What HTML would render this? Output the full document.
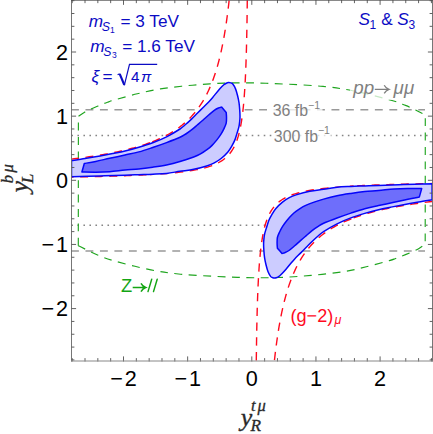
<!DOCTYPE html>
<html><head><meta charset="utf-8"><style>
html,body{margin:0;padding:0;background:#fff;}
svg{display:block;font-family:"Liberation Sans",sans-serif;}
.ser{font-family:"Liberation Serif",serif;font-style:italic;fill:#2a2a2a;stroke:#2a2a2a;stroke-width:0.3px}
.tl{font-size:21.6px;fill:#000;letter-spacing:1.8px}
.bl{fill:#0b0bc4;font-size:17.2px}
</style></head><body>
<svg width="433" height="434" viewBox="0 0 433 434">
<rect width="433" height="434" fill="#fff"/>
<defs><clipPath id="cp"><rect x="71.5" y="0" width="361.0" height="361.0"/></clipPath>
<g id="lobe">
<path d="M71.50,160.80 C73.75,160.43 80.25,159.42 85.00,158.60 C89.75,157.78 95.33,156.77 100.00,155.90 C104.67,155.03 108.83,154.23 113.00,153.40 C117.17,152.57 120.69,151.93 125.00,150.90 C129.31,149.87 134.23,148.57 138.85,147.20 C143.47,145.83 148.08,144.43 152.70,142.70 C157.32,140.97 162.00,139.08 166.55,136.80 C171.10,134.52 176.79,131.08 180.00,129.00 C183.21,126.92 183.88,125.95 185.80,124.30 C187.72,122.65 189.58,120.93 191.50,119.10 C193.42,117.27 195.37,115.23 197.30,113.30 C199.23,111.37 201.17,109.43 203.10,107.50 C205.03,105.57 207.30,103.38 208.90,101.70 C210.50,100.02 210.92,99.52 212.70,97.40 C214.48,95.28 217.75,91.10 219.60,89.00 C221.45,86.90 222.68,85.77 223.80,84.80 C224.92,83.83 225.50,83.57 226.30,83.20 C227.10,82.83 227.85,82.65 228.60,82.60 C229.35,82.55 230.10,82.67 230.80,82.90 C231.50,83.13 232.01,83.01 232.80,84.00 C233.59,84.99 234.75,86.88 235.55,88.85 C236.35,90.82 237.03,93.49 237.60,95.80 C238.17,98.11 238.65,100.40 239.00,102.70 C239.35,105.00 239.53,107.29 239.70,109.60 C239.87,111.91 240.00,114.57 240.00,116.55 C240.00,118.53 239.88,119.78 239.70,121.50 C239.52,123.22 239.37,124.88 238.90,126.90 C238.43,128.92 237.60,131.35 236.90,133.60 C236.20,135.85 235.53,138.37 234.70,140.40 C233.87,142.43 233.03,143.88 231.90,145.80 C230.77,147.72 229.70,149.78 227.90,151.90 C226.10,154.02 223.37,156.67 221.10,158.50 C218.83,160.33 216.57,161.70 214.30,162.90 C212.03,164.10 210.92,164.63 207.50,165.70 C204.08,166.77 198.38,168.37 193.80,169.30 C189.22,170.23 184.54,170.62 180.00,171.30 C175.46,171.98 171.10,172.92 166.55,173.40 C162.00,173.88 157.32,173.98 152.70,174.20 C148.08,174.42 143.47,174.53 138.85,174.70 C134.23,174.87 131.47,174.98 125.00,175.20 C118.53,175.42 108.92,175.73 100.00,176.00 C91.08,176.27 76.25,176.67 71.50,176.80Z" fill="#ccccff" stroke="#0505fa" stroke-width="1.5" stroke-linejoin="round"/>
<path d="M84.30,163.50 C86.20,163.15 91.48,162.27 95.70,161.40 C99.92,160.53 104.72,159.37 109.60,158.30 C114.48,157.23 120.12,156.07 125.00,155.00 C129.88,153.93 134.23,153.15 138.85,151.90 C143.47,150.65 148.08,149.05 152.70,147.50 C157.32,145.95 162.00,144.30 166.55,142.60 C171.10,140.90 176.79,138.73 180.00,137.30 C183.21,135.87 183.88,135.23 185.80,134.00 C187.72,132.77 189.58,131.40 191.50,129.90 C193.42,128.40 195.37,126.65 197.30,125.00 C199.23,123.35 201.17,121.70 203.10,120.00 C205.03,118.30 206.98,116.45 208.90,114.80 C210.82,113.15 213.00,111.23 214.60,110.10 C216.20,108.97 217.33,108.50 218.50,108.00 C219.67,107.50 221.08,107.25 221.60,107.10 C222.37,107.98 225.43,111.52 226.20,112.40 C226.25,113.22 226.50,115.52 226.50,117.30 C226.50,119.08 226.62,121.22 226.20,123.10 C225.78,124.98 224.87,126.75 224.00,128.60 C223.13,130.45 222.18,132.32 221.00,134.20 C219.82,136.08 218.43,138.00 216.90,139.90 C215.37,141.80 213.40,144.02 211.80,145.60 C210.20,147.18 209.18,148.02 207.30,149.40 C205.42,150.78 202.77,152.63 200.50,153.90 C198.23,155.17 197.12,155.73 193.70,157.00 C190.28,158.27 184.53,160.18 180.00,161.50 C175.47,162.82 171.10,163.95 166.55,164.90 C162.00,165.85 157.32,166.52 152.70,167.20 C148.08,167.88 143.47,168.52 138.85,169.00 C134.23,169.48 129.88,169.65 125.00,170.10 C120.12,170.55 114.48,171.35 109.60,171.70 C104.72,172.05 100.32,172.15 95.70,172.20 C91.08,172.25 84.20,172.03 81.90,172.00Z" fill="#6e6efb" stroke="#0505fa" stroke-width="1.5" stroke-linejoin="round"/>
</g></defs>
<g clip-path="url(#cp)">
<g stroke="#999" stroke-width="1.6" fill="none">
<path d="M71,109.7H425" stroke-dasharray="7.9 6.57"/>
<path d="M71,251.0H425" stroke-dasharray="7.9 6.57"/>
<path d="M71.4,135.5H428" stroke-dasharray="1.6 4.41" stroke-width="1.6" stroke="#858585"/>
<path d="M71.4,225.3H428" stroke-dasharray="1.6 4.41" stroke-width="1.6" stroke="#858585"/>
</g>
<path id="green" d="M78.30,245.70 L78.40,116.30 C79.43,115.62 82.63,113.37 84.60,112.20 C86.57,111.03 88.05,110.30 90.20,109.30 C92.35,108.30 95.28,107.13 97.50,106.20 C99.72,105.27 101.67,104.42 103.50,103.70 C105.33,102.98 106.72,102.52 108.50,101.90 C110.28,101.28 109.40,101.35 114.20,100.00 C119.00,98.65 129.60,95.65 137.30,93.80 C145.00,91.95 151.22,90.33 160.40,88.90 C169.58,87.47 181.68,86.17 192.40,85.20 C203.12,84.23 213.93,83.47 224.70,83.10 C235.47,82.73 246.22,82.80 257.00,83.00 C267.78,83.20 278.40,83.73 289.40,84.30 C300.40,84.87 312.45,85.33 323.00,86.40 C333.55,87.47 341.70,88.50 352.70,90.70 C363.70,92.90 380.20,97.15 389.00,99.60 C397.80,102.05 401.07,103.65 405.50,105.40 C409.93,107.15 412.77,108.75 415.60,110.10 C418.43,111.45 420.88,112.70 422.50,113.50 C424.12,114.30 424.83,114.67 425.30,114.90 L425.20,244.30 C424.17,244.98 420.97,247.23 419.00,248.40 C417.03,249.57 415.55,250.30 413.40,251.30 C411.25,252.30 408.32,253.47 406.10,254.40 C403.88,255.33 401.93,256.18 400.10,256.90 C398.27,257.62 396.88,258.08 395.10,258.70 C393.32,259.32 394.20,259.25 389.40,260.60 C384.60,261.95 374.00,264.95 366.30,266.80 C358.60,268.65 352.38,270.27 343.20,271.70 C334.02,273.13 321.92,274.43 311.20,275.40 C300.48,276.37 289.67,277.13 278.90,277.50 C268.13,277.87 257.38,277.80 246.60,277.60 C235.82,277.40 225.20,276.87 214.20,276.30 C203.20,275.73 191.15,275.27 180.60,274.20 C170.05,273.13 161.90,272.10 150.90,269.90 C139.90,267.70 123.40,263.45 114.60,261.00 C105.80,258.55 102.53,256.95 98.10,255.20 C93.67,253.45 90.83,251.85 88.00,250.50 C85.17,249.15 82.72,247.90 81.10,247.10 C79.48,246.30 78.77,245.93 78.30,245.70" fill="none" stroke="#1fa51f" stroke-width="1.15" stroke-dasharray="7.9 6.5"/>
<g fill="none" stroke="#ff0a1e" stroke-width="1.4" stroke-dasharray="8.3 6.5">
<path d="M71.54,159.09 L74.16,158.78 L76.75,158.46 L79.30,158.14 L81.81,157.81 L84.29,157.48 L86.73,157.14 L89.13,156.80 L91.50,156.45 L93.83,156.09 L96.13,155.74 L98.40,155.37 L100.63,155.00 L102.83,154.63 L105.00,154.25 L107.14,153.86 L109.24,153.47 L111.32,153.07 L113.36,152.67 L115.37,152.26 L117.36,151.85 L119.31,151.42 L121.24,151.00 L123.14,150.56 L125.01,150.12 L126.85,149.68 L128.67,149.22 L130.46,148.76 L132.22,148.29 L133.96,147.82 L135.67,147.34 L137.36,146.85 L139.02,146.36 L140.66,145.85 L142.27,145.34 L143.86,144.83 L145.43,144.30 L146.97,143.77 L148.50,143.23 L149.99,142.68" stroke-dashoffset="0.60" stroke-dasharray="8.0 6.6"/><path d="M149.99,142.68 L152.02,141.91 L154.01,141.12 L155.95,140.32 L157.86,139.51 L159.73,138.67 L161.56,137.82 L163.35,136.95 L165.11,136.07 L166.83,135.16 L168.52,134.24 L170.17,133.30 L171.79,132.34 L173.38,131.36 L174.93,130.36 L176.46,129.34 L177.95,128.30 L179.41,127.23 L180.84,126.15 L182.25,125.04 L183.62,123.91 L184.97,122.76 L186.29,121.58 L187.58,120.38 L188.85,119.16 L190.09,117.91 L191.31,116.63 L192.50,115.33 L193.66,114.01 L194.81,112.65 L195.93,111.27 L197.02,109.86 L198.10,108.42 L199.15,106.95 L200.18,105.45 L201.19,103.92 L202.18,102.36 L203.15,100.77 L204.10,99.14 L205.03,97.48 L205.94,95.79 L206.83,94.06 L207.70,92.30 L208.55,90.50 L209.39,88.66 L210.21,86.79 L211.01,84.88 L211.80,82.93 L212.57,80.94 L213.32,78.91 L214.06,76.84 L214.78,74.72 L215.49,72.57 L216.18,70.36 L216.86,68.12 L217.52,65.82 L218.17,63.48 L218.81,61.10 L219.43,58.66 L220.04,56.17 L220.64,53.64 L221.22,51.05 L221.79,48.41 L222.35,45.71 L222.89,42.96 L223.43,40.15 L223.95,37.29 L224.46,34.37 L224.96,31.38 L225.45,28.34 L225.93,25.23 L226.40,22.07 L226.86,18.83 L227.30,15.53 L227.74,12.16 L228.17,8.73 L228.59,5.22 L229.00,1.64 L229.39,-2.01 L229.78,-5.73" stroke-dashoffset="12.37" stroke-dasharray="8.3 6.5"/><path d="M432.06,201.51 L429.44,201.82 L426.85,202.14 L424.30,202.46 L421.79,202.79 L419.31,203.12 L416.87,203.46 L414.47,203.80 L412.10,204.15 L409.77,204.51 L407.47,204.86 L405.20,205.23 L402.97,205.60 L400.77,205.97 L398.60,206.35 L396.46,206.74 L394.36,207.13 L392.28,207.53 L390.24,207.93 L388.23,208.34 L386.24,208.75 L384.29,209.18 L382.36,209.60 L380.46,210.04 L378.59,210.48 L376.75,210.92 L374.93,211.38 L373.14,211.84 L371.38,212.31 L369.64,212.78 L367.93,213.26 L366.24,213.75 L364.58,214.24 L362.94,214.75 L361.33,215.26 L359.74,215.77 L358.17,216.30 L356.63,216.83 L355.10,217.37 L353.61,217.92" stroke-dashoffset="0.60" stroke-dasharray="8.0 6.6"/><path d="M353.61,217.92 L351.58,218.69 L349.59,219.48 L347.65,220.28 L345.74,221.09 L343.87,221.93 L342.04,222.78 L340.25,223.65 L338.49,224.53 L336.77,225.44 L335.08,226.36 L333.43,227.30 L331.81,228.26 L330.22,229.24 L328.67,230.24 L327.14,231.26 L325.65,232.30 L324.19,233.37 L322.76,234.45 L321.35,235.56 L319.98,236.69 L318.63,237.84 L317.31,239.02 L316.02,240.22 L314.75,241.44 L313.51,242.69 L312.29,243.97 L311.10,245.27 L309.94,246.59 L308.79,247.95 L307.67,249.33 L306.58,250.74 L305.50,252.18 L304.45,253.65 L303.42,255.15 L302.41,256.68 L301.42,258.24 L300.45,259.83 L299.50,261.46 L298.57,263.12 L297.66,264.81 L296.77,266.54 L295.90,268.30 L295.05,270.10 L294.21,271.94 L293.39,273.81 L292.59,275.72 L291.80,277.67 L291.03,279.66 L290.28,281.69 L289.54,283.76 L288.82,285.88 L288.11,288.03 L287.42,290.24 L286.74,292.48 L286.08,294.78 L285.43,297.12 L284.79,299.50 L284.17,301.94 L283.56,304.43 L282.96,306.96 L282.38,309.55 L281.81,312.19 L281.25,314.89 L280.71,317.64 L280.17,320.45 L279.65,323.31 L279.14,326.23 L278.64,329.22 L278.15,332.26 L277.67,335.37 L277.20,338.53 L276.74,341.77 L276.30,345.07 L275.86,348.44 L275.43,351.87 L275.01,355.38 L274.60,358.96 L274.21,362.61 L273.82,366.34" stroke-dashoffset="12.37" stroke-dasharray="8.3 6.5"/><path d="M71.54,177.06 L74.16,177.01 L76.74,176.96 L79.29,176.91 L81.80,176.86 L84.27,176.81 L86.71,176.76 L89.11,176.71 L91.48,176.65 L93.81,176.60 L96.11,176.55 L98.37,176.49 L100.60,176.43 L102.80,176.38 L104.97,176.32 L107.10,176.26 L109.21,176.20 L111.28,176.14 L113.33,176.08 L115.34,176.02 L117.33,175.95 L119.28,175.89 L121.21,175.82 L123.11,175.76 L124.98,175.69 L126.82,175.62 L128.64,175.55 L130.43,175.48 L132.20,175.41 L133.94,175.34 L135.65,175.27 L137.34,175.19 L139.00,175.12 L140.64,175.04 L142.26,174.96 L143.85,174.88 L145.42,174.80 L146.97,174.72 L148.49,174.64 L149.99,174.56" stroke-dashoffset="6.00" stroke-dasharray="8.0 6.6"/><path d="M149.99,174.56 L154.38,174.30 L158.57,174.03 L162.58,173.75 L166.42,173.45 L170.09,173.14 L173.61,172.82 L176.97,172.49 L180.19,172.13 L183.27,171.77 L186.21,171.38 L189.03,170.98 L191.73,170.56 L194.31,170.12 L196.78,169.66 L199.15,169.19 L201.41,168.69 L203.57,168.16 L205.64,167.62 L207.62,167.05 L209.51,166.45 L211.33,165.83 L213.06,165.17 L214.72,164.49 L216.31,163.78 L217.83,163.04 L219.28,162.26 L220.67,161.45 L222.00,160.60 L223.27,159.71 L224.49,158.79 L225.65,157.82 L226.76,156.81 L227.83,155.75 L228.84,154.64 L229.82,153.49 L230.75,152.28 L231.64,151.02 L232.49,149.70 L233.30,148.33 L234.08,146.89 L234.82,145.38 L235.53,143.81 L236.21,142.17 L236.86,140.45 L237.47,138.66 L238.07,136.79 L238.63,134.83 L239.17,132.78 L239.68,130.64 L240.18,128.41 L240.64,126.07 L241.09,123.63 L241.52,121.08 L241.92,118.42 L242.31,115.63 L242.68,112.72 L243.03,109.68 L243.37,106.50 L243.68,103.18 L243.99,99.71 L244.27,96.08 L244.54,92.29 L244.80,88.33 L245.05,84.19 L245.28,79.86 L245.50,75.34 L245.70,70.61 L245.90,65.68 L246.08,60.52 L246.26,55.13 L246.42,49.49 L246.57,43.61 L246.71,37.45 L246.84,31.02 L246.96,24.30 L247.07,17.28 L247.18,9.95 L247.27,2.28 L247.36,-5.73" stroke-dashoffset="4.49" stroke-dasharray="8.3 6.5"/><path d="M432.06,183.54 L429.44,183.59 L426.86,183.64 L424.31,183.69 L421.80,183.74 L419.33,183.79 L416.89,183.84 L414.49,183.89 L412.12,183.95 L409.79,184.00 L407.49,184.05 L405.23,184.11 L403.00,184.17 L400.80,184.22 L398.63,184.28 L396.50,184.34 L394.39,184.40 L392.32,184.46 L390.27,184.52 L388.26,184.58 L386.27,184.65 L384.32,184.71 L382.39,184.78 L380.49,184.84 L378.62,184.91 L376.78,184.98 L374.96,185.05 L373.17,185.12 L371.40,185.19 L369.66,185.26 L367.95,185.33 L366.26,185.41 L364.60,185.48 L362.96,185.56 L361.34,185.64 L359.75,185.72 L358.18,185.80 L356.63,185.88 L355.11,185.96 L353.61,186.04" stroke-dashoffset="6.00" stroke-dasharray="8.0 6.6"/><path d="M353.61,186.04 L349.22,186.30 L345.03,186.57 L341.02,186.85 L337.18,187.15 L333.51,187.46 L329.99,187.78 L326.63,188.11 L323.41,188.47 L320.33,188.83 L317.39,189.22 L314.57,189.62 L311.87,190.04 L309.29,190.48 L306.82,190.94 L304.45,191.41 L302.19,191.91 L300.03,192.44 L297.96,192.98 L295.98,193.55 L294.09,194.15 L292.27,194.77 L290.54,195.43 L288.88,196.11 L287.29,196.82 L285.77,197.56 L284.32,198.34 L282.93,199.15 L281.60,200.00 L280.33,200.89 L279.11,201.81 L277.95,202.78 L276.84,203.79 L275.77,204.85 L274.76,205.96 L273.78,207.11 L272.85,208.32 L271.96,209.58 L271.11,210.90 L270.30,212.27 L269.52,213.71 L268.78,215.22 L268.07,216.79 L267.39,218.43 L266.74,220.15 L266.13,221.94 L265.53,223.81 L264.97,225.77 L264.43,227.82 L263.92,229.96 L263.42,232.19 L262.96,234.53 L262.51,236.97 L262.08,239.52 L261.68,242.18 L261.29,244.97 L260.92,247.88 L260.57,250.92 L260.23,254.10 L259.92,257.42 L259.61,260.89 L259.33,264.52 L259.06,268.31 L258.80,272.27 L258.55,276.41 L258.32,280.74 L258.10,285.26 L257.90,289.99 L257.70,294.92 L257.52,300.08 L257.34,305.47 L257.18,311.11 L257.03,316.99 L256.89,323.15 L256.76,329.58 L256.64,336.30 L256.53,343.32 L256.42,350.65 L256.33,358.32 L256.24,366.34" stroke-dashoffset="4.49" stroke-dasharray="8.3 6.5"/>
</g>
<use href="#lobe"/>
<use href="#lobe" transform="rotate(180 251.8 180.3)"/>
</g>
<!-- frame -->
<g stroke="#505050" stroke-width="0.9" fill="none">
<path d="M72.18,361.5v-3.4 M72.18,-0.15000000000000002v3.3 M71.0,359.92h3.4 M433.0,359.92h-3.4"/><path d="M85.01,361.5v-3.4 M85.01,-0.15000000000000002v3.3 M71.0,347.09h3.4 M433.0,347.09h-3.4"/><path d="M97.84,361.5v-3.4 M97.84,-0.15000000000000002v3.3 M71.0,334.26h3.4 M433.0,334.26h-3.4"/><path d="M110.67,361.5v-3.4 M110.67,-0.15000000000000002v3.3 M71.0,321.43h3.4 M433.0,321.43h-3.4"/><path d="M123.50,361.5v-5.1 M123.50,-0.15000000000000002v5.0 M71.0,308.60h5.1 M433.0,308.60h-5.1"/><path d="M136.33,361.5v-3.4 M136.33,-0.15000000000000002v3.3 M71.0,295.77h3.4 M433.0,295.77h-3.4"/><path d="M149.16,361.5v-3.4 M149.16,-0.15000000000000002v3.3 M71.0,282.94h3.4 M433.0,282.94h-3.4"/><path d="M161.99,361.5v-3.4 M161.99,-0.15000000000000002v3.3 M71.0,270.11h3.4 M433.0,270.11h-3.4"/><path d="M174.82,361.5v-3.4 M174.82,-0.15000000000000002v3.3 M71.0,257.28h3.4 M433.0,257.28h-3.4"/><path d="M187.65,361.5v-5.1 M187.65,-0.15000000000000002v5.0 M71.0,244.45h5.1 M433.0,244.45h-5.1"/><path d="M200.48,361.5v-3.4 M200.48,-0.15000000000000002v3.3 M71.0,231.62h3.4 M433.0,231.62h-3.4"/><path d="M213.31,361.5v-3.4 M213.31,-0.15000000000000002v3.3 M71.0,218.79h3.4 M433.0,218.79h-3.4"/><path d="M226.14,361.5v-3.4 M226.14,-0.15000000000000002v3.3 M71.0,205.96h3.4 M433.0,205.96h-3.4"/><path d="M238.97,361.5v-3.4 M238.97,-0.15000000000000002v3.3 M71.0,193.13h3.4 M433.0,193.13h-3.4"/><path d="M251.80,361.5v-5.1 M251.80,-0.15000000000000002v5.0 M71.0,180.30h5.1 M433.0,180.30h-5.1"/><path d="M264.63,361.5v-3.4 M264.63,-0.15000000000000002v3.3 M71.0,167.47h3.4 M433.0,167.47h-3.4"/><path d="M277.46,361.5v-3.4 M277.46,-0.15000000000000002v3.3 M71.0,154.64h3.4 M433.0,154.64h-3.4"/><path d="M290.29,361.5v-3.4 M290.29,-0.15000000000000002v3.3 M71.0,141.81h3.4 M433.0,141.81h-3.4"/><path d="M303.12,361.5v-3.4 M303.12,-0.15000000000000002v3.3 M71.0,128.98h3.4 M433.0,128.98h-3.4"/><path d="M315.95,361.5v-5.1 M315.95,-0.15000000000000002v5.0 M71.0,116.15h5.1 M433.0,116.15h-5.1"/><path d="M328.78,361.5v-3.4 M328.78,-0.15000000000000002v3.3 M71.0,103.32h3.4 M433.0,103.32h-3.4"/><path d="M341.61,361.5v-3.4 M341.61,-0.15000000000000002v3.3 M71.0,90.49h3.4 M433.0,90.49h-3.4"/><path d="M354.44,361.5v-3.4 M354.44,-0.15000000000000002v3.3 M71.0,77.66h3.4 M433.0,77.66h-3.4"/><path d="M367.27,361.5v-3.4 M367.27,-0.15000000000000002v3.3 M71.0,64.83h3.4 M433.0,64.83h-3.4"/><path d="M380.10,361.5v-5.1 M380.10,-0.15000000000000002v5.0 M71.0,52.00h5.1 M433.0,52.00h-5.1"/><path d="M392.93,361.5v-3.4 M392.93,-0.15000000000000002v3.3 M71.0,39.17h3.4 M433.0,39.17h-3.4"/><path d="M405.76,361.5v-3.4 M405.76,-0.15000000000000002v3.3 M71.0,26.34h3.4 M433.0,26.34h-3.4"/><path d="M418.59,361.5v-3.4 M418.59,-0.15000000000000002v3.3 M71.0,13.51h3.4 M433.0,13.51h-3.4"/><path d="M431.42,361.5v-3.4 M431.42,-0.15000000000000002v3.3 M71.0,0.68h3.4 M433.0,0.68h-3.4"/>
<path d="M71.5,361.5V0 M432.5,361.5V0" stroke-width="0.9" stroke="#666"/>
<path d="M71.0,0.25H433" stroke-width="0.9"/>
<path d="M71.0,361.0H433" stroke-width="1" stroke="#888"/>
</g>
<g class="tl" text-anchor="end">
<text x="69.8" y="59.5">2</text><text x="69.8" y="123.7">1</text><text x="69.8" y="187.8">0</text>
<text x="69.8" y="252.0">−1</text><text x="69.8" y="316.1">−2</text>
</g>
<g class="tl" text-anchor="middle">
<text x="124.4" y="386.3">−2</text><text x="188.6" y="386.3">−1</text><text x="252.7" y="386.3">0</text>
<text x="316.9" y="386.3">1</text><text x="381.0" y="386.3">2</text>
</g>
<g class="bl">
<text x="88.7" y="27" font-style="italic">m</text><text x="101.8" y="30.9" font-style="italic" font-size="12.3">S</text><text x="110" y="33" font-size="8.5">1</text><text x="120.5" y="27">= 3 TeV</text>
<text x="90.3" y="52.2" font-style="italic">m</text><text x="103.3" y="56.2" font-style="italic" font-size="12.3">S</text><text x="112" y="58.4" font-size="8.5">3</text><text x="122.2" y="52.2">= 1.6 TeV</text>
<text x="91.6" y="81.7" font-style="italic">ξ</text><text x="102.4" y="81.7">=</text><text x="130.9" y="81.6" font-size="15.2">4</text><text x="141.0" y="81.6" font-style="italic" font-size="15.4">π</text>
<path d="M117.6,74.8l2.1,-1.1" fill="none" stroke="#0b0bc4" stroke-width="1.2"/>
<path d="M119.7,73.9l4.6,11.0" fill="none" stroke="#0b0bc4" stroke-width="2.2"/>
<path d="M124.3,85.4l5.2,-21.0h27.7" fill="none" stroke="#0b0bc4" stroke-width="1.2"/>
<text x="358.4" y="24.6" font-style="italic">S</text><text x="369.4" y="28.5" font-size="12">1</text><text x="381.3" y="24.6">&amp;</text><text x="397.2" y="24.6" font-style="italic">S</text><text x="408.6" y="28.5" font-size="12">3</text>
</g>
<g fill="#808080" font-size="15.9">
<rect x="270.5" y="102" width="52" height="16" fill="#fff" opacity="0.75"/>
<rect x="272" y="128" width="59" height="16" fill="#fff" opacity="0.75"/>
<rect x="350" y="80" width="66" height="20" fill="#fff" opacity="0.75"/>
<text x="272.7" y="116.4">36 fb<tspan font-size="10.5" dy="-7.5">−1</tspan></text>
<text x="273.8" y="141.9">300 fb<tspan font-size="10.5" dy="-7.5">−1</tspan></text>
<text x="353.3" y="94" font-size="18.8" font-style="italic">pp</text><text x="393.6" y="94" font-size="18.8" font-style="italic">μμ</text>
<path d="M374.8,89.3H388.4 M384.2,85.2Q385.8,88.2 389,89.3Q385.8,90.4 384.2,93.4" fill="none" stroke="#808080" stroke-width="1.3"/>
</g>
<text x="121.1" y="291.9" font-size="18.4" fill="#14a514">Z</text>
<path d="M148.0,291.6L151.7,279.2 M153.5,291.6L157.2,279.2" fill="none" stroke="#14a514" stroke-width="1.45" stroke-linecap="round"/>
<path d="M132.7,287.5H144.9 M141.0,283.3Q142.6,286.3 145.7,287.5Q142.6,288.7 141.0,291.7" fill="none" stroke="#14a514" stroke-width="1.5"/>
<text x="290.5" y="321.9" font-size="18.1" fill="#ff0a1e">(g−2)<tspan font-size="12.5" font-style="italic" dy="2.4" dx="1.2">μ</tspan></text>
<g class="ser">
<text x="240.8" y="426.1" font-size="26">y</text>
<text x="250.4" y="430.9" font-size="17.3">R</text>
<text x="251" y="411.4" font-size="16.5">t</text><text x="257.6" y="411.4" font-size="16.5">μ</text>
<g transform="translate(27.6,195.2) rotate(-90)">
<text x="2.6" y="0.2" font-size="26">y</text>
<text x="12.0" y="5.5" font-size="17.3">L</text>
<text x="12.0" y="-14.3" font-size="16.5">b</text><text x="22.6" y="-14.3" font-size="16.5">μ</text>
</g>
</g>
</svg>
</body></html>
